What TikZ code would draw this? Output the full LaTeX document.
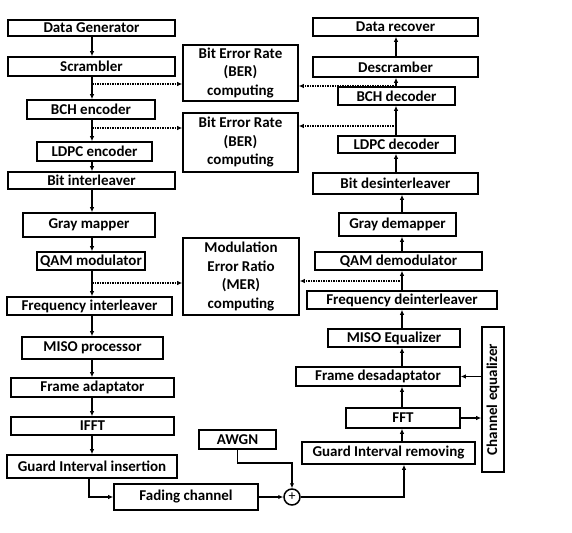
\documentclass[tikz,border=0pt]{standalone}
\usepackage{fontspec}
\setmainfont{Carlito}
\usetikzlibrary{arrows.meta}
\begin{document}
\begin{tikzpicture}[x=1pt,y=-1pt,
    blk/.style={draw, line width=1.6pt, inner sep=0pt, align=center,
      font=\bfseries\fontsize{15}{18.5}\selectfont},
    arr/.style={line width=1.5pt, -{Latex[length=5pt,width=4.5pt]}},
    tap/.style={line width=1.5pt, densely dotted, -{Latex[length=5pt,width=4.5pt]}}]
  \useasboundingbox (0,0) rectangle (572,532);
  % transmitter
  \node[blk, minimum width=167pt, minimum height=16pt] (dg) at (91.5,28) {Data Generator};
  \node[blk, minimum width=167pt, minimum height=19pt] (scr) at (91.5,66.5) {Scrambler};
  \node[blk, minimum width=128pt, minimum height=19pt] (bche) at (91,109.5) {BCH encoder};
  \node[blk, minimum width=115pt, minimum height=19pt] (ldpce) at (94.5,151.5) {LDPC encoder};
  \node[blk, minimum width=167pt, minimum height=17pt] (bil) at (91.5,180.5) {Bit interleaver};
  \node[blk, minimum width=132pt, minimum height=24pt] (gm) at (89,225) {Gray mapper};
  \node[blk, minimum width=108pt, minimum height=18pt] (qam) at (91,261) {QAM modulator};
  \node[blk, minimum width=165pt, minimum height=18pt] (fil) at (89.5,306) {Frequency interleaver};
  \node[blk, minimum width=141pt, minimum height=22pt] (miso) at (92.5,348) {MISO processor};
  \node[blk, minimum width=163pt, minimum height=19pt] (fa) at (92.5,387.5) {Frame adaptator};
  \node[blk, minimum width=163pt, minimum height=18pt] (ifft) at (92.5,426) {IFFT};
  \node[blk, minimum width=170pt, minimum height=23pt] (gii) at (92,466.5) {Guard Interval insertion};
  % channel
  \node[blk, minimum width=144pt, minimum height=26pt] (fc) at (186,497) {Fading channel};
  \node[blk, minimum width=77pt, minimum height=19pt] (awgn) at (237.5,439.5) {AWGN};
  \node[draw, line width=1.5pt, circle, inner sep=0pt, minimum size=16pt,
    font=\fontsize{14}{14}\selectfont] (sum) at (292,497) {+};
  % measures
  \node[blk, minimum width=115pt, minimum height=56pt] (ber1) at (240.5,73) {Bit Error Rate\\(BER)\\computing};
  \node[blk, minimum width=115pt, minimum height=59pt] (ber2) at (240.5,142.5) {Bit Error Rate\\(BER)\\computing};
  \node[blk, minimum width=116pt, minimum height=77pt] (mer) at (241,276.5) {Modulation\\Error Ratio\\(MER)\\computing};
  % receiver
  \node[blk, minimum width=165pt, minimum height=18pt] (drec) at (395.5,27) {Data recover};
  \node[blk, minimum width=165pt, minimum height=20pt] (dscr) at (395.5,67) {Descramber};
  \node[blk, minimum width=117pt, minimum height=18pt] (bchd) at (396.5,96) {BCH decoder};
  \node[blk, minimum width=117pt, minimum height=17pt] (ldpcd) at (396.5,144.5) {LDPC decoder};
  \node[blk, minimum width=165pt, minimum height=21pt] (bdi) at (395.5,183.5) {Bit desinterleaver};
  \node[blk, minimum width=117pt, minimum height=23pt] (gdm) at (397.5,224.5) {Gray demapper};
  \node[blk, minimum width=167pt, minimum height=18pt] (qamd) at (398.5,261) {QAM demodulator};
  \node[blk, minimum width=190pt, minimum height=18pt] (fdi) at (402,300) {Frequency deinterleaver};
  \node[blk, minimum width=132pt, minimum height=18pt] (misoeq) at (394,338) {MISO Equalizer};
  \node[blk, minimum width=164pt, minimum height=19pt] (fda) at (378,376.5) {Frame desadaptator};
  \node[blk, minimum width=114pt, minimum height=20pt] (fft) at (403,418) {FFT};
  \node[blk, minimum width=173pt, minimum height=22pt] (gir) at (388.5,453) {Guard Interval removing};
  \node[blk, rotate=90, minimum width=145pt, minimum height=22pt] (cheq) at (493,399.5) {Channel equalizer};
  % spines and taps
  \coordinate (lx) at (92,0);
  \coordinate (rxa) at (396,0);
  \coordinate (rxb) at (402,0);
  \coordinate (t1) at (92,84);
  \coordinate (t2) at (92,128);
  \coordinate (t3) at (92,283);
  \coordinate (r1) at (396,86);
  \coordinate (r2) at (396,126);
  \coordinate (r3) at (402,281);
  \coordinate (bend) at (292,463);
  % transmitter arrows
  \foreach \a/\b in {dg/scr, scr/bche, bche/ldpce, ldpce/bil, bil/gm, gm/qam, qam/fil, fil/miso, miso/fa, fa/ifft, ifft/gii}
    \draw[arr] (\a.south -| lx) -- (\b.north -| lx);
  % receiver arrows
  \foreach \a/\b in {bchd/dscr, dscr/drec, ldpcd/bchd, bdi/ldpcd}
    \draw[arr] (\a.north -| rxa) -- (\b.south -| rxa);
  \foreach \a/\b in {gdm/bdi, qamd/gdm, fdi/qamd, misoeq/fdi, fda/misoeq, fft/fda, gir/fft}
    \draw[arr] (\a.north -| rxb) -- (\b.south -| rxb);
  % channel arrows
  \draw[arr] (gii.south -| 89,0) |- (fc.west);
  \draw[arr] (fc.east) -- (sum.west);
  \draw[arr] (awgn.south) |- (bend) -- (sum.north);
  \draw[arr] (sum.east) -| (gir.south -| 404,0);
  \draw[arr] (fft.east) -- (fft.east -| cheq.north);
  \draw[arr] (cheq.north |- fda.east) -- (fda.east);
  % dotted taps
  \draw[tap] (t1) -- (t1 -| ber1.west);
  \draw[tap] (t2) -- (t2 -| ber2.west);
  \draw[tap] (t3) -- (t3 -| mer.west);
  \draw[tap] (r1) -- (r1 -| ber1.east);
  \draw[tap] (r2) -- (r2 -| ber2.east);
  \draw[tap] (r3) -- (r3 -| mer.east);
\end{tikzpicture}
\end{document}
